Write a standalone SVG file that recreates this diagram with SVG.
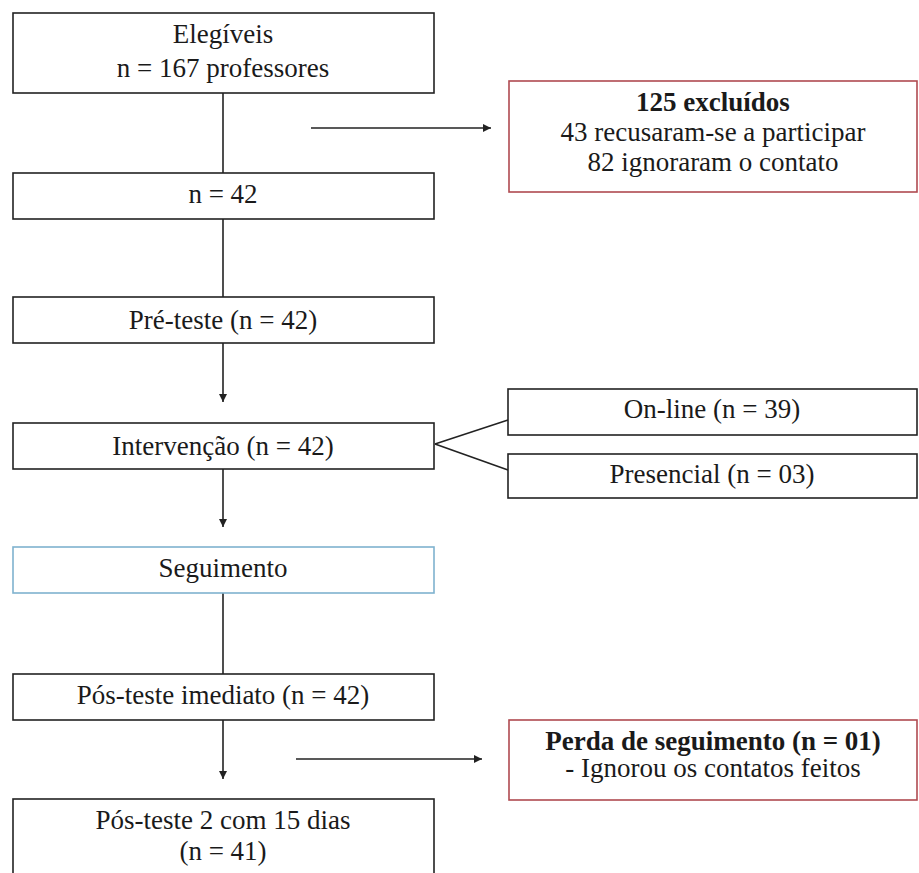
<svg xmlns="http://www.w3.org/2000/svg" width="919" height="873" viewBox="0 0 919 873">
<style>
.box{fill:#fff;stroke:#222;stroke-width:1.6}
.red{fill:#fff;stroke:#b04a50;stroke-width:1.6}
.blue{fill:#fff;stroke:#7fb2cf;stroke-width:1.6}
text{font-size:27px;fill:#1a1a1a;text-anchor:middle}
.b{font-weight:bold}
.ln{stroke:#222;stroke-width:1.6;fill:none}
</style>
<defs>
<marker id="ah" viewBox="0 0 10 10" refX="10" refY="5" markerWidth="8" markerHeight="8" markerUnits="userSpaceOnUse" orient="auto">
<path d="M0,0 L10,5 L0,10 z" fill="#222"/>
</marker>
</defs>
<rect width="919" height="873" fill="#fff"/>
<g id="connectors">
<line class="ln" x1="223" y1="93" x2="223" y2="173"/>
<line class="ln" x1="311" y1="128" x2="491" y2="128" marker-end="url(#ah)"/>
<line class="ln" x1="223" y1="219" x2="223" y2="297"/>
<line class="ln" x1="223" y1="343" x2="223" y2="402" marker-end="url(#ah)"/>
<line class="ln" x1="435" y1="444" x2="508" y2="420"/>
<line class="ln" x1="435" y1="444" x2="508" y2="470"/>
<line class="ln" x1="223" y1="469" x2="223" y2="527" marker-end="url(#ah)"/>
<line class="ln" x1="223" y1="593" x2="223" y2="674"/>
<line class="ln" x1="223" y1="720" x2="223" y2="779" marker-end="url(#ah)"/>
<line class="ln" x1="296" y1="759" x2="482" y2="759" marker-end="url(#ah)"/>
</g>
<g font-family="Liberation Serif, DejaVu Serif, serif">
<g id="elegiveis">
<rect class="box" x="13" y="13" width="421" height="80"/>
<text x="223" y="43">Elegíveis</text>
<text x="223" y="77">n = 167 professores</text>
</g>
<g id="excluidos">
<rect class="red" x="509" y="81" width="408" height="111"/>
<text x="713" y="111" class="b">125 excluídos</text>
<text x="713" y="141">43 recusaram-se a participar</text>
<text x="713" y="171">82 ignoraram o contato</text>
</g>
<g id="n42">
<rect class="box" x="13" y="173" width="421" height="46"/>
<text x="223" y="203">n = 42</text>
</g>
<g id="preteste">
<rect class="box" x="13" y="297" width="421" height="46"/>
<text x="223" y="329">Pré-teste (n = 42)</text>
</g>
<g id="intervencao">
<rect class="box" x="13" y="423" width="421" height="46"/>
<text x="223" y="455">Intervenção (n = 42)</text>
</g>
<g id="online">
<rect class="box" x="508" y="389" width="409" height="46"/>
<text x="712" y="418">On-line (n = 39)</text>
</g>
<g id="presencial">
<rect class="box" x="508" y="454" width="409" height="44"/>
<text x="712" y="483">Presencial (n = 03)</text>
</g>
<g id="seguimento">
<rect class="blue" x="13" y="547" width="421" height="46"/>
<text x="223" y="577">Seguimento</text>
</g>
<g id="posteste-imediato">
<rect class="box" x="13" y="674" width="421" height="46"/>
<text x="223" y="704">Pós-teste imediato (n = 42)</text>
</g>
<g id="perda">
<rect class="red" x="509" y="720" width="408" height="80"/>
<text x="713" y="750" class="b">Perda de seguimento (n = 01)</text>
<text x="713" y="777">- Ignorou os contatos feitos</text>
</g>
<g id="posteste2">
<rect class="box" x="13" y="799" width="421" height="90"/>
<text x="223" y="829">Pós-teste 2 com 15 dias</text>
<text x="223" y="860">(n = 41)</text>
</g>
</g>
</svg>
